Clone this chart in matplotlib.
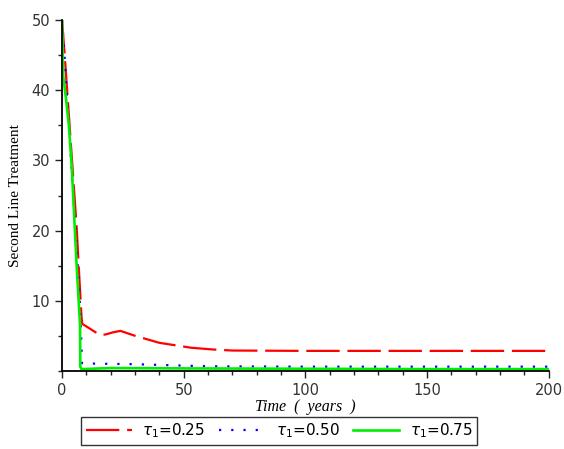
import matplotlib
matplotlib.use("Agg")
import matplotlib.pyplot as plt
from matplotlib.ticker import MultipleLocator

# Data
t_red = [0, 1, 2, 3, 4, 5, 6, 7, 8, 8.3, 12, 15.6, 18, 21, 24, 30, 40, 53, 62, 70, 100, 150, 200]
v_red = [50, 45.5, 40.5, 35.5, 30.5, 25.5, 20.5, 14, 7.7, 6.7, 5.9, 5.1, 5.2, 5.5, 5.7, 5.0, 4.0, 3.3, 3.05, 2.9, 2.85, 2.85, 2.85]

t_blue = [0, 1, 2, 3, 4, 5, 6, 7, 7.6, 8.2, 10, 20, 30, 40, 50, 60, 100, 150, 200]
v_blue = [50, 45, 39.5, 34, 28.5, 23, 17.5, 12, 7.5, 1.1, 1.05, 1.0, 0.95, 0.85, 0.75, 0.65, 0.6, 0.6, 0.6]

t_green = [0, 0.5, 1.7, 2.8, 4.0, 5.0, 6.0, 7.4, 7.5, 8, 20, 50, 100, 150, 200]
v_green = [50, 42, 38.6, 35, 29, 22, 15, 6.5, 0.6, 0.25, 0.4, 0.35, 0.3, 0.25, 0.25]

labels = [r'$\tau_{\mathit{1}}$=0.25', r'$\tau_{\mathit{1}}$=0.50', r'$\tau_{\mathit{1}}$=0.75']

plt.rcParams['mathtext.fontset'] = 'custom'
plt.rcParams['mathtext.rm'] = 'DejaVu Sans'
plt.rcParams['mathtext.it'] = 'DejaVu Sans:italic'
plt.rcParams['mathtext.bf'] = 'DejaVu Sans:bold'

fig = plt.figure(figsize=(5.64, 4.49), dpi=100)
ax = fig.add_axes([0.110, 0.174, 0.863, 0.781])

l1, = ax.plot(t_red, v_red, color='#ff0000', lw=1.6, dashes=(15, 3.5), label=labels[0])
l2, = ax.plot(t_blue, v_blue, color='#0000ff', lw=1.6, dashes=(1, 4.5), label=labels[1])
l3, = ax.plot(t_green, v_green, color='#00ee00', lw=1.9, label=labels[2])

ax.set_xlim(0, 200)
ax.set_ylim(0, 50)
ax.xaxis.set_minor_locator(MultipleLocator(10))
ax.yaxis.set_minor_locator(MultipleLocator(5))
ax.set_yticks([10, 20, 30, 40, 50])
ax.set_xticks([0, 50, 100, 150, 200])
for s in ['top', 'right']:
    ax.spines[s].set_visible(False)
for s in ['left', 'bottom']:
    ax.spines[s].set_linewidth(1.3)
ax.tick_params(which='major', length=5, width=1.0, labelsize=10.5, colors='#222222', labelcolor='#333333')
ax.tick_params(which='minor', length=3, width=1.0, colors='#222222')

ax.set_xlabel('Time  (  years  )', family='Liberation Serif', style='italic', fontsize=11.5, labelpad=1)
ax.set_ylabel('Second Line Treatment', family='Liberation Serif', fontsize=11, labelpad=7)

leg = fig.legend(handles=[l1, l2, l3], labels=labels, loc='center', bbox_to_anchor=(0.495, 0.04),
                 ncol=3, frameon=True, fancybox=False, edgecolor='black', fontsize=11,
                 handlelength=3.0, columnspacing=0.9, handletextpad=0.7, borderpad=0.3,
                 borderaxespad=0.2)
leg.get_frame().set_linewidth(1.0)

fig.savefig('out.png', dpi=100)
